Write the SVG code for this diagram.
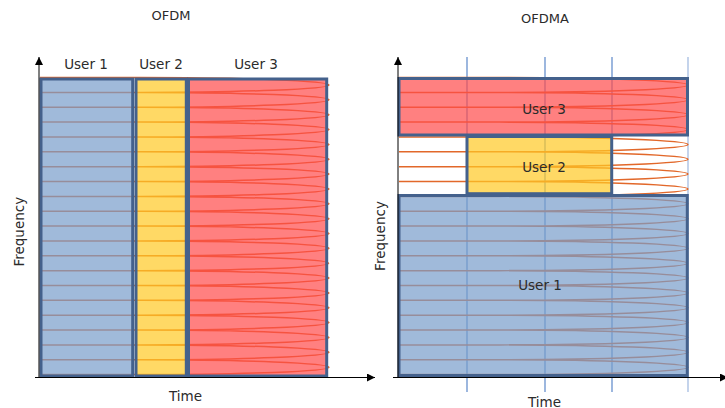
<svg xmlns="http://www.w3.org/2000/svg" xmlns:xlink="http://www.w3.org/1999/xlink" width="725" height="408" viewBox="0 0 725 408">
  <style>
    text { font-family: "DejaVu Sans", Verdana, sans-serif; fill: #2b2b2b; }
    .title { font-size: 13px; text-anchor: middle; }
    .lbl { font-size: 13.5px; text-anchor: middle; }
    .axis { stroke: #000; stroke-width: 1; fill: none; }
    .slot { stroke: #5b87c9; stroke-width: 1.2; }
    .sub { fill: none; stroke: #e2682a; stroke-width: 1.5; }
    .box { stroke: #44618c; stroke-width: 3; fill-opacity: 0.7; }
    .u1 { fill: #779dca; }
    .u2 { fill: #ffc924; }
    .u3 { fill: #ff4a4a; }
  </style>
  <defs>
    <marker id="arrow" viewBox="0 0 10 10" refX="10" refY="5" markerWidth="8" markerHeight="8" markerUnits="userSpaceOnUse" orient="auto">
      <path d="M0 0L10 5L0 10z" fill="#000"/>
    </marker>
    <!-- stack of 20 subcarrier lobes: flat run, then a rounded tip 289 px to the right of x=0 -->
    <path id="subcarriers" class="sub" d="M0 77.575
      h100 a189 7.425 0 0 1 0 14.85 h-100 h100 a189 7.425 0 0 1 0 14.85 h-100
      h100 a189 7.425 0 0 1 0 14.85 h-100 h100 a189 7.425 0 0 1 0 14.85 h-100
      h100 a189 7.425 0 0 1 0 14.85 h-100 h100 a189 7.425 0 0 1 0 14.85 h-100
      h100 a189 7.425 0 0 1 0 14.85 h-100 h100 a189 7.425 0 0 1 0 14.85 h-100
      h100 a189 7.425 0 0 1 0 14.85 h-100 h100 a189 7.425 0 0 1 0 14.85 h-100
      h100 a189 7.425 0 0 1 0 14.85 h-100 h100 a189 7.425 0 0 1 0 14.85 h-100
      h100 a189 7.425 0 0 1 0 14.85 h-100 h100 a189 7.425 0 0 1 0 14.85 h-100
      h100 a189 7.425 0 0 1 0 14.85 h-100 h100 a189 7.425 0 0 1 0 14.85 h-100
      h100 a189 7.425 0 0 1 0 14.85 h-100 h100 a189 7.425 0 0 1 0 14.85 h-100
      h100 a189 7.425 0 0 1 0 14.85 h-100 h100 a189 7.425 0 0 1 0 14.85 h-100"/>
  </defs>

  <!-- ===== OFDM ===== -->
  <text class="title" x="171" y="20">OFDM</text>
  <use xlink:href="#subcarriers" href="#subcarriers" x="40" y="0"/>

  <g id="ofdm-user1">
    <rect class="box u1" x="41" y="79" width="91.7" height="297"/>
    <text class="lbl" x="86" y="68.5">User 1</text>
  </g>
  <g id="ofdm-user2">
    <rect class="box u2" x="136" y="79" width="50.3" height="297"/>
    <text class="lbl" x="161" y="68.5">User 2</text>
  </g>
  <g id="ofdm-user3">
    <rect class="box u3" x="188.5" y="79" width="138.2" height="297"/>
    <text class="lbl" x="256" y="68.5">User 3</text>
  </g>

  <text class="lbl" x="185.5" y="401">Time</text>
  <text class="lbl" transform="translate(24 231.7) rotate(-90)">Frequency</text>

  <!-- ===== OFDMA ===== -->
  <text class="title" x="545" y="23">OFDMA</text>

  <g id="time-slots">
    <line class="slot" x1="467" y1="57" x2="467" y2="392"/>
    <line class="slot" x1="545" y1="57" x2="545" y2="392"/>
    <line class="slot" x1="612" y1="57" x2="612" y2="392"/>
    <line class="slot" x1="688" y1="57" x2="688" y2="392" stroke-opacity="0.6"/>
  </g>

  <use xlink:href="#subcarriers" href="#subcarriers" x="399" y="0"/>

  <g id="ofdma-user3">
    <rect class="box u3" x="399" y="78.5" width="288.5" height="56.5"/>
    <text class="lbl" x="544" y="113.5">User 3</text>
  </g>
  <g id="ofdma-user2">
    <rect class="box u2" x="467" y="136.5" width="144.7" height="57.2"/>
    <text class="lbl" x="544" y="171.5">User 2</text>
  </g>
  <g id="ofdma-user1">
    <rect class="box u1" x="399" y="195.5" width="288.3" height="180"/>
    <text class="lbl" x="540" y="290">User 1</text>
  </g>

  <text class="lbl" x="544.5" y="406.5">Time</text>
  <text class="lbl" transform="translate(385 236) rotate(-90)">Frequency</text>

  <!-- axes -->
  <g id="connectors">
    <line class="axis" x1="39" y1="377.5" x2="39" y2="57" marker-end="url(#arrow)"/>
    <line class="axis" x1="35" y1="377.5" x2="375" y2="377.5" marker-end="url(#arrow)"/>
    <line class="axis" x1="398" y1="377.5" x2="398" y2="57" marker-end="url(#arrow)"/>
    <line class="axis" x1="393" y1="377.5" x2="728" y2="377.5" marker-end="url(#arrow)"/>
  </g>
</svg>
